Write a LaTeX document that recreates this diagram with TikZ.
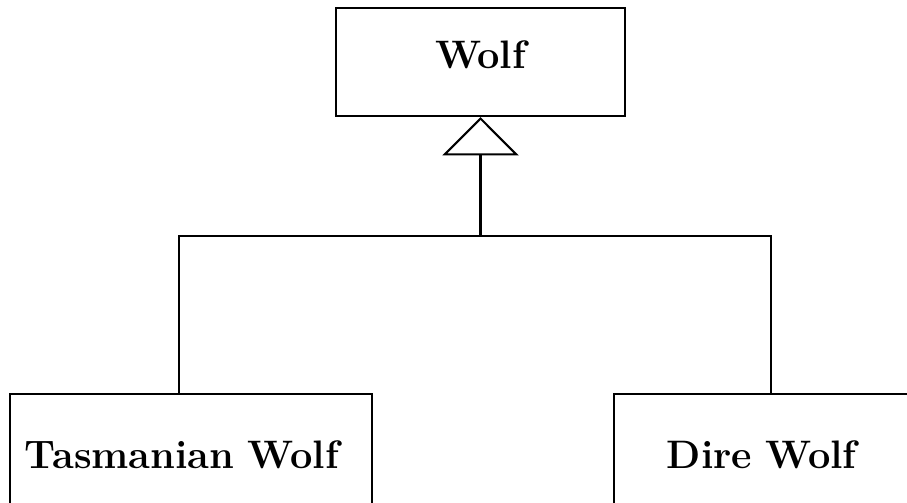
\documentclass[tikz,border=0pt]{standalone}
\usetikzlibrary{arrows.meta}

\tikzset{
	classbox/.style={draw, rectangle, line width=0.8pt, font=\fontsize{15.3}{18}\selectfont\bfseries},
	subbox/.style={classbox, minimum height=1.6cm, text height=0.45cm, text depth=0.03cm, align=left},
	inherit/.style={line width=0.8pt, -{Triangle[open, length=0.52cm, width=1.03cm]}},
}

\begin{document}
\begin{tikzpicture}
		\useasboundingbox (0,0) rectangle (12.273,-6.793);
		%
		\node[classbox, minimum width=3.91cm, minimum height=1.461cm, text height=0.40cm, text depth=0.222cm] (wolf) at (6.502,-0.839) {Wolf};
		\node[subbox, inner xsep=0.203cm, text width=4.492cm] (tasmanian) at (2.584,-6.131) {Tasmanian Wolf};
		\node[subbox, inner xsep=0.717cm, text width=3.464cm] (dire) at (10.757,-6.131) {Dire Wolf};
		%
		\coordinate (lft) at (2.422,-3.193);
		\coordinate (rgt) at (10.432,-3.193);
		\coordinate (hub) at (wolf.south |- lft);
		%
		\draw[line width=0.8pt] (tasmanian.north -| lft) -- (lft) -- (rgt) -- (dire.north -| rgt);
		\draw[inherit] (hub) -- (wolf.south);
	\end{tikzpicture}
\end{document}
